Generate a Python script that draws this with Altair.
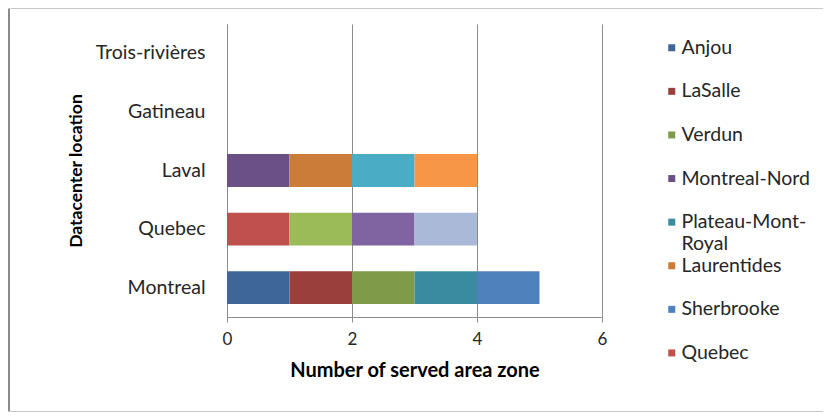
import altair as alt
import pandas as pd

# ---- data ----
categories = ["Montreal", "Quebec", "Laval", "Gatineau", "Trois-rivières"]
series = ["Anjou", "LaSalle", "Verdun", "Montreal-Nord", "Plateau-Mont-Royal",
          "Laurentides", "Sherbrooke", "Quebec",
          "Series 9", "Series 10", "Series 11", "Series 12", "Series 13"]
colors = ["#3F6698", "#9B3F3D", "#7F9A48", "#6A5085", "#3A8BA0",
          "#CB7C38", "#4F81BD", "#C0504D",
          "#9BBB59", "#8064A2", "#4BACC6", "#F79646", "#AAB9D8"]
montreal = [1, 1, 1, 0, 1, 0, 1, 0, 0, 0, 0, 0, 0]
quebec = [0, 0, 0, 0, 0, 0, 0, 1, 1, 1, 0, 0, 1]
laval = [0, 0, 0, 1, 0, 1, 0, 0, 0, 0, 1, 1, 0]
gatineau = [0] * 13
trois_rivieres = [0] * 13
legend_shown = series[:8]
x_ticks = [0, 2, 4, 6]

rows = []
for cat, vals in zip(categories, [montreal, quebec, laval, gatineau, trois_rivieres]):
    for i, (s, v) in enumerate(zip(series, vals)):
        rows.append({"location": cat, "zone": s, "idx": i, "count": v})
df = pd.DataFrame(rows)

GRID = "#8c8c8c"

bars = alt.Chart(df).mark_bar(stroke=None).encode(
    x=alt.X("sum(count):Q", stack="zero",
            scale=alt.Scale(domain=[0, 6], nice=False),
            axis=alt.Axis(title="Number of served area zone", values=x_ticks,
                          grid=True, gridColor=GRID, domainColor=GRID,
                          tickColor=GRID, tickSize=5, labelPadding=9,
                          labelFlush=False,
                          labelFontSize=17, titleFontSize=20,
                          titlePadding=13)),
    y=alt.Y("location:N",
            scale=alt.Scale(domain=categories[::-1], paddingInner=0.44,
                            paddingOuter=0.22),
            axis=alt.Axis(title="Datacenter location", ticks=False,
                          domainColor=GRID, labelPadding=22,
                          labelFontSize=19.5, titleFontSize=17.5,
                          titlePadding=10)),
    color=alt.Color("zone:N",
                    scale=alt.Scale(domain=series, range=colors),
                    legend=alt.Legend(title=None, values=legend_shown,
                                      orient="none", legendX=435, legendY=14,
                                      symbolType="square", symbolSize=49,
                                      symbolStrokeWidth=0,
                                      labelFontSize=19.5, labelOffset=0,
                                      rowPadding=1.6, labelLimit=0,
                                      labelExpr="datum.label == 'Plateau-Mont-Royal' ? ['\u00a0Plateau-Mont-', 'Royal'] : [datum.label, '']")),
    order=alt.Order("idx:Q", sort="ascending"),
)

frame_left = alt.Chart(df).mark_rule(color="#8a8a8a", strokeWidth=2).encode(
    x=alt.value(-218), y=alt.value(-16), y2=alt.value(388))
frame_top = alt.Chart(df).mark_rule(color="#c8c8c8", strokeWidth=1).encode(
    x=alt.value(-219), x2=alt.value(596), y=alt.value(-15.5))
frame_bottom = alt.Chart(df).mark_rule(color="#c8c8c8", strokeWidth=1).encode(
    x=alt.value(-219), x2=alt.value(596), y=alt.value(387.5))

chart = alt.layer(frame_left, frame_top, frame_bottom, bars).properties(
    width=375, height=293,
    autosize=alt.AutoSizeParams(type="none"),
    padding={"left": 219, "top": 16, "right": 221, "bottom": 95},
).configure(font="Lato").configure_view(stroke=None).configure_axis(
    labelColor="#262626", titleFontWeight="bold", titleColor="#000000",
    grid=False
).configure_axisX(grid=True).configure_legend(labelColor="#262626", padding=0)

chart.save("out.html", embed_options={"renderer": "svg", "actions": False})
